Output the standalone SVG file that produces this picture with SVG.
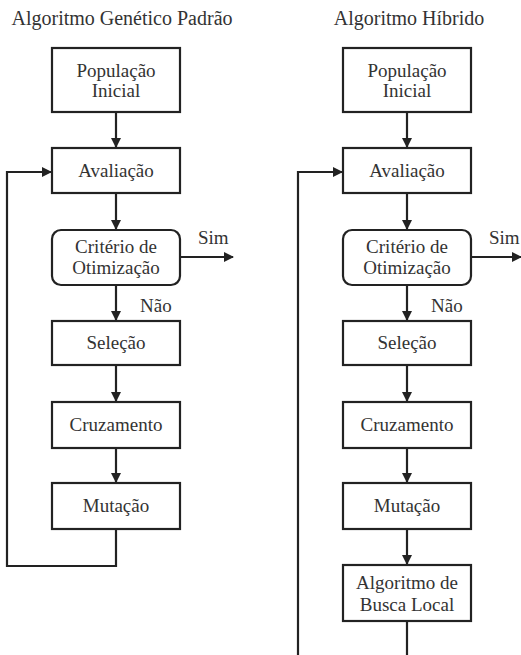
<svg xmlns="http://www.w3.org/2000/svg" width="521" height="655" viewBox="0 0 521 655">
<defs>
<marker id="ah" markerWidth="10" markerHeight="10" refX="9" refY="5" orient="auto" markerUnits="userSpaceOnUse">
<path d="M0,0 L10,5 L0,10 z" fill="#222"/>
</marker>
<style>
.box{fill:#fff;stroke:#222;stroke-width:2.2}
.t{font-family:"Liberation Serif","Times New Roman",serif;font-size:19px;fill:#333;text-anchor:middle}
.title{font-family:"Liberation Serif","Times New Roman",serif;font-size:20px;fill:#333;text-anchor:middle}
.lbl{font-family:"Liberation Serif","Times New Roman",serif;font-size:19px;fill:#333}
.c{fill:none;stroke:#222;stroke-width:2.2}
</style>
</defs>
<rect width="521" height="655" fill="#fff"/>
<text class="title" x="122" y="25">Algoritmo Genético Padrão</text>
<text class="title" x="409" y="25">Algoritmo Híbrido</text>

<g id="connectors">
<line class="c" x1="116" y1="112" x2="116" y2="147" marker-end="url(#ah)"/>
<line class="c" x1="116" y1="193" x2="116" y2="229" marker-end="url(#ah)"/>
<line class="c" x1="180" y1="257" x2="233" y2="257" marker-end="url(#ah)"/>
<line class="c" x1="116" y1="285" x2="116" y2="320" marker-end="url(#ah)"/>
<line class="c" x1="116" y1="365" x2="116" y2="401" marker-end="url(#ah)"/>
<line class="c" x1="116" y1="448" x2="116" y2="482" marker-end="url(#ah)"/>
<polyline class="c" points="116,529 116,566 7,566 7,172 51,172" marker-end="url(#ah)"/>

<line class="c" x1="407" y1="112" x2="407" y2="147" marker-end="url(#ah)"/>
<line class="c" x1="407" y1="193" x2="407" y2="229" marker-end="url(#ah)"/>
<line class="c" x1="471" y1="257" x2="521" y2="257" marker-end="url(#ah)"/>
<line class="c" x1="407" y1="285" x2="407" y2="320" marker-end="url(#ah)"/>
<line class="c" x1="407" y1="365" x2="407" y2="401" marker-end="url(#ah)"/>
<line class="c" x1="407" y1="448" x2="407" y2="482" marker-end="url(#ah)"/>
<line class="c" x1="407" y1="529" x2="407" y2="564" marker-end="url(#ah)"/>
<polyline class="c" points="407,621 407,670 298,670 298,172 342,172" marker-end="url(#ah)"/>
<text class="lbl" x="198" y="244">Sim</text>
<text class="lbl" x="140" y="312">Não</text>
<text class="lbl" x="489" y="244">Sim</text>
<text class="lbl" x="431" y="312">Não</text>
</g>

<g id="l-pop"><rect class="box" x="52" y="48" width="128" height="64"/><text class="t" x="116" y="77">População</text><text class="t" x="116" y="97">Inicial</text></g>
<g id="l-aval"><rect class="box" x="52" y="148" width="128" height="45"/><text class="t" x="116" y="177">Avaliação</text></g>
<g id="l-crit"><rect class="box" x="52" y="230" width="128" height="55" rx="9"/><text class="t" x="116" y="253">Critério de</text><text class="t" x="116" y="274">Otimização</text></g>
<g id="l-sel"><rect class="box" x="52" y="321" width="128" height="44"/><text class="t" x="116" y="349">Seleção</text></g>
<g id="l-cruz"><rect class="box" x="52" y="402" width="128" height="46"/><text class="t" x="116" y="431">Cruzamento</text></g>
<g id="l-mut"><rect class="box" x="52" y="483" width="128" height="46"/><text class="t" x="116" y="512">Mutação</text></g>

<g id="r-pop"><rect class="box" x="343" y="48" width="128" height="64"/><text class="t" x="407" y="77">População</text><text class="t" x="407" y="97">Inicial</text></g>
<g id="r-aval"><rect class="box" x="343" y="148" width="128" height="45"/><text class="t" x="407" y="177">Avaliação</text></g>
<g id="r-crit"><rect class="box" x="343" y="230" width="128" height="55" rx="9"/><text class="t" x="407" y="253">Critério de</text><text class="t" x="407" y="274">Otimização</text></g>
<g id="r-sel"><rect class="box" x="343" y="321" width="128" height="44"/><text class="t" x="407" y="349">Seleção</text></g>
<g id="r-cruz"><rect class="box" x="343" y="402" width="128" height="46"/><text class="t" x="407" y="431">Cruzamento</text></g>
<g id="r-mut"><rect class="box" x="343" y="483" width="128" height="46"/><text class="t" x="407" y="512">Mutação</text></g>
<g id="r-busca"><rect class="box" x="343" y="565" width="128" height="56"/><text class="t" x="407" y="589">Algoritmo de</text><text class="t" x="407" y="611">Busca Local</text></g>
</svg>
